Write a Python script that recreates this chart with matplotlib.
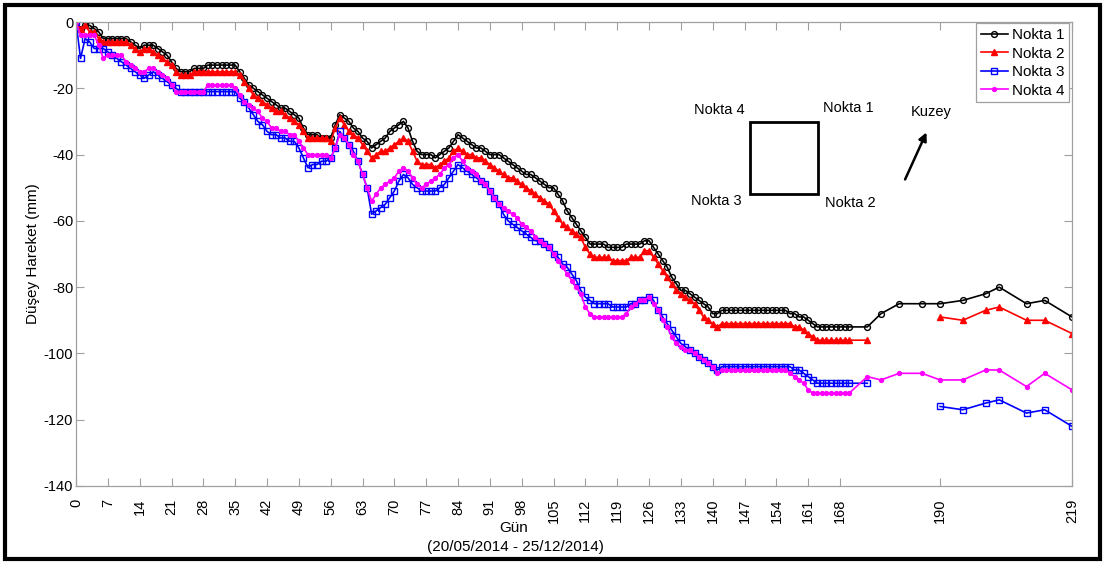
import numpy as np
import matplotlib
matplotlib.use('Agg')
import matplotlib.pyplot as plt
from matplotlib.patches import Rectangle

plt.rcParams['font.family'] = ['Liberation Sans', 'DejaVu Sans']

nan = np.nan

# gunluk olcumler, gun 0..170
days_dense = list(range(171))
# seyrek olcumler
days_late = [174, 177, 181, 186, 190, 195, 200, 203, 209, 213, 219]

n1_dense = [
    0, -2, -1, -1, -2, -3, -5, -5, -5, -5,
    -5, -5, -6, -7, -8, -7, -7, -7, -8, -9,
    -10, -12, -14, -15, -15, -15, -14, -14, -14, -13,
    -13, -13, -13, -13, -13, -13, -15, -17, -19, -20,
    -21, -22, -23, -24, -25, -26, -26, -27, -28, -29,
    -32, -34, -34, -34, -35, -35, -35, -31, -28, -29,
    -30, -32, -33, -35, -36, -38, -37, -36, -35, -33,
    -32, -31, -30, -32, -36, -39, -40, -40, -40, -41,
    -40, -39, -38, -36, -34, -35, -36, -37, -38, -38,
    -39, -40, -40, -40, -41, -42, -43, -44, -45, -46,
    -46, -47, -48, -49, -50, -50, -52, -54, -57, -59,
    -61, -63, -65, -67, -67, -67, -67, -68, -68, -68,
    -68, -67, -67, -67, -67, -66, -66, -68, -70, -72,
    -74, -77, -79, -81, -81, -82, -83, -84, -85, -86,
    -88, -88, -87, -87, -87, -87, -87, -87, -87, -87,
    -87, -87, -87, -87, -87, -87, -87, -88, -88, -89,
    -89, -90, -91, -92, -92, -92, -92, -92, -92, -92,
    -92]
n1_late = [-92, -88, -85, -85, -85, -84, -82, -80, -85, -84, -89]

n2_dense = [
    0, -2, -1, -3, -3, -5, -6, -6, -6, -6,
    -6, -6, -7, -8, -9, -8, -8, -9, -10, -11,
    -12, -13, -15, -16, -16, -16, -15, -15, -15, -15,
    -15, -15, -15, -15, -15, -15, -16, -18, -20, -22,
    -23, -24, -25, -26, -27, -27, -28, -29, -30, -31,
    -33, -35, -35, -35, -35, -35, -36, -32, -29, -31,
    -33, -34, -35, -37, -39, -41, -40, -39, -39, -38,
    -37, -36, -35, -36, -39, -42, -43, -43, -43, -44,
    -43, -42, -41, -39, -38, -39, -40, -40, -41, -41,
    -42, -43, -44, -45, -46, -47, -47, -48, -49, -50,
    -51, -52, -53, -54, -55, -57, -59, -61, -62, -63,
    -64, -65, -68, -70, -71, -71, -71, -71, -72, -72,
    -72, -72, -71, -71, -71, -69, -69, -71, -73, -75,
    -77, -79, -81, -82, -83, -84, -85, -87, -89, -90,
    -91, -92, -91, -91, -91, -91, -91, -91, -91, -91,
    -91, -91, -91, -91, -91, -91, -91, -91, -92, -92,
    -93, -94, -95, -96, -96, -96, -96, -96, -96, -96,
    -96]
n2_late = [-96, nan, nan, nan, -89, -90, -87, -86, -90, -90, -94]

n3_dense = [
    0, -11, -5, -6, -8, -8, -8, -9, -10, -11,
    -12, -13, -14, -15, -16, -17, -16, -15, -16, -17,
    -18, -19, -20, -21, -21, -21, -21, -21, -21, -21,
    -21, -21, -21, -21, -21, -21, -23, -24, -26, -28,
    -30, -31, -33, -34, -34, -35, -35, -36, -36, -38,
    -41, -44, -43, -43, -42, -42, -41, -38, -33, -35,
    -37, -39, -42, -46, -50, -58, -57, -56, -55, -53,
    -51, -48, -46, -47, -49, -50, -51, -51, -51, -51,
    -50, -49, -47, -45, -43, -44, -45, -46, -47, -48,
    -49, -51, -53, -55, -58, -60, -61, -62, -63, -64,
    -65, -66, -66, -67, -68, -70, -71, -73, -74, -76,
    -78, -81, -83, -84, -85, -85, -85, -85, -86, -86,
    -86, -86, -85, -85, -84, -84, -83, -84, -87, -89,
    -91, -93, -95, -97, -98, -99, -100, -101, -102, -103,
    -104, -105, -104, -104, -104, -104, -104, -104, -104, -104,
    -104, -104, -104, -104, -104, -104, -104, -104, -105, -105,
    -106, -107, -108, -109, -109, -109, -109, -109, -109, -109,
    -109]
n3_late = [-109, nan, nan, nan, -116, -117, -115, -114, -118, -117, -122]

n4_dense = [
    0, -4, -4, -4, -4, -7, -11, -10, -10, -10,
    -10, -12, -13, -14, -15, -15, -14, -14, -15, -16,
    -17, -19, -21, -21, -21, -21, -21, -21, -21, -19,
    -19, -19, -19, -19, -19, -20, -22, -24, -25, -26,
    -27, -29, -30, -32, -32, -33, -33, -34, -34, -36,
    -38, -40, -40, -40, -40, -40, -41, -38, -34, -35,
    -37, -40, -42, -46, -50, -54, -52, -50, -49, -48,
    -47, -45, -44, -45, -47, -49, -50, -49, -48, -47,
    -46, -44, -43, -41, -40, -42, -44, -45, -46, -48,
    -49, -51, -53, -55, -56, -57, -58, -59, -61, -62,
    -63, -65, -66, -67, -68, -70, -72, -74, -76, -78,
    -80, -82, -86, -88, -89, -89, -89, -89, -89, -89,
    -89, -88, -86, -85, -84, -84, -83, -85, -87, -90,
    -92, -95, -97, -98, -99, -99, -100, -101, -102, -103,
    -104, -106, -105, -105, -105, -105, -105, -105, -105, -105,
    -105, -105, -105, -105, -105, -105, -105, -106, -107, -108,
    -109, -111, -112, -112, -112, -112, -112, -112, -112, -112,
    -112]
n4_late = [-107, -108, -106, -106, -108, -108, -105, -105, -110, -106, -111]

xticks = [0, 7, 14, 21, 28, 35, 42, 49, 56, 63, 70, 77, 84, 91, 98, 105,
          112, 119, 126, 133, 140, 147, 154, 161, 168, 190, 219]
yticks = [0, -20, -40, -60, -80, -100, -120, -140]

days = days_dense + days_late

fig = plt.figure(figsize=(11.05, 5.67), dpi=100)
ax = fig.add_axes([76 / 1105, 1 - 486 / 567, 996 / 1105, 464 / 567])

ax.plot(days, n1_dense + n1_late, '-', color='black', lw=1.2, marker='o',
        ms=4.2, mfc='none', mew=1.0, label='Nokta 1')
ax.plot(days, n2_dense + n2_late, '-', color='red', lw=1.2, marker='^',
        ms=4.2, mew=1.0, label='Nokta 2')
ax.plot(days, n3_dense + n3_late, '-', color='blue', lw=1.2, marker='s',
        ms=3.7, mfc='none', mew=1.0, label='Nokta 3')
ax.plot(days, n4_dense + n4_late, '-', color='magenta', lw=1.2, marker='o',
        ms=3.0, mew=0.8, label='Nokta 4')

ax.set_xlim(0, 219)
ax.set_ylim(-140, 0)
ax.set_xticks(xticks)
ax.set_xticklabels([str(t) for t in xticks], rotation=90)
ax.set_yticks(yticks)
ax.set_yticklabels([str(t) for t in yticks])

for lbl in ax.get_xticklabels() + ax.get_yticklabels():
    lbl.set_fontsize(10.5)

ax.tick_params(direction='in', length=6, width=0.8, color='#a0a0a0',
               top=True, right=True)
ax.tick_params(axis='x', pad=9)
ax.tick_params(axis='y', pad=2)
for s in ax.spines.values():
    s.set_color('#a0a0a0')
    s.set_linewidth(0.9)

ax.set_ylabel('Düşey Hareket (mm)', fontsize=11)
ax.yaxis.set_label_coords(-0.036, 0.5)

fig.text(514 / 1105, 1 - 528 / 567, 'Gün', ha='center', va='center',
         fontsize=11)
fig.text(515 / 1105, 1 - 547 / 567, '(20/05/2014 - 25/12/2014)',
         ha='center', va='center', fontsize=11)

leg = ax.legend(loc='upper right', bbox_to_anchor=(0.997, 0.997),
                borderaxespad=0, fancybox=False, framealpha=1,
                fontsize=11, handlelength=1.8, handletextpad=0.25,
                labelspacing=0.3, borderpad=0.3)
leg.get_frame().set_edgecolor('#a0a0a0')
leg.get_frame().set_linewidth(0.9)

# konum krokisi
ax.add_patch(Rectangle((148.1, -51.8), 15.1, 21.6, fill=False, lw=2,
                       ec='black'))
ax.text(141.4, -26.6, 'Nokta 4', ha='center', va='center', fontsize=10.5)
ax.text(169.9, -26.0, 'Nokta 1', ha='center', va='center', fontsize=10.5)
ax.text(140.9, -54.0, 'Nokta 3', ha='center', va='center', fontsize=10.5)
ax.text(170.2, -54.5, 'Nokta 2', ha='center', va='center', fontsize=10.5)
ax.text(188.1, -27.1, 'Kuzey', ha='center', va='center', fontsize=10.5)
ax.annotate('', xy=(187.0, -33.3), xytext=(182.3, -47.5),
            arrowprops=dict(arrowstyle='-|>', lw=1.8, color='black',
                            mutation_scale=12, shrinkA=0, shrinkB=0))

fig.patches.append(Rectangle((4.5 / 1105, 1 - 559 / 567), 1095.5 / 1105,
                             554.5 / 567, transform=fig.transFigure,
                             fill=False, lw=3, ec='black'))

fig.savefig('out.png', dpi=100)
